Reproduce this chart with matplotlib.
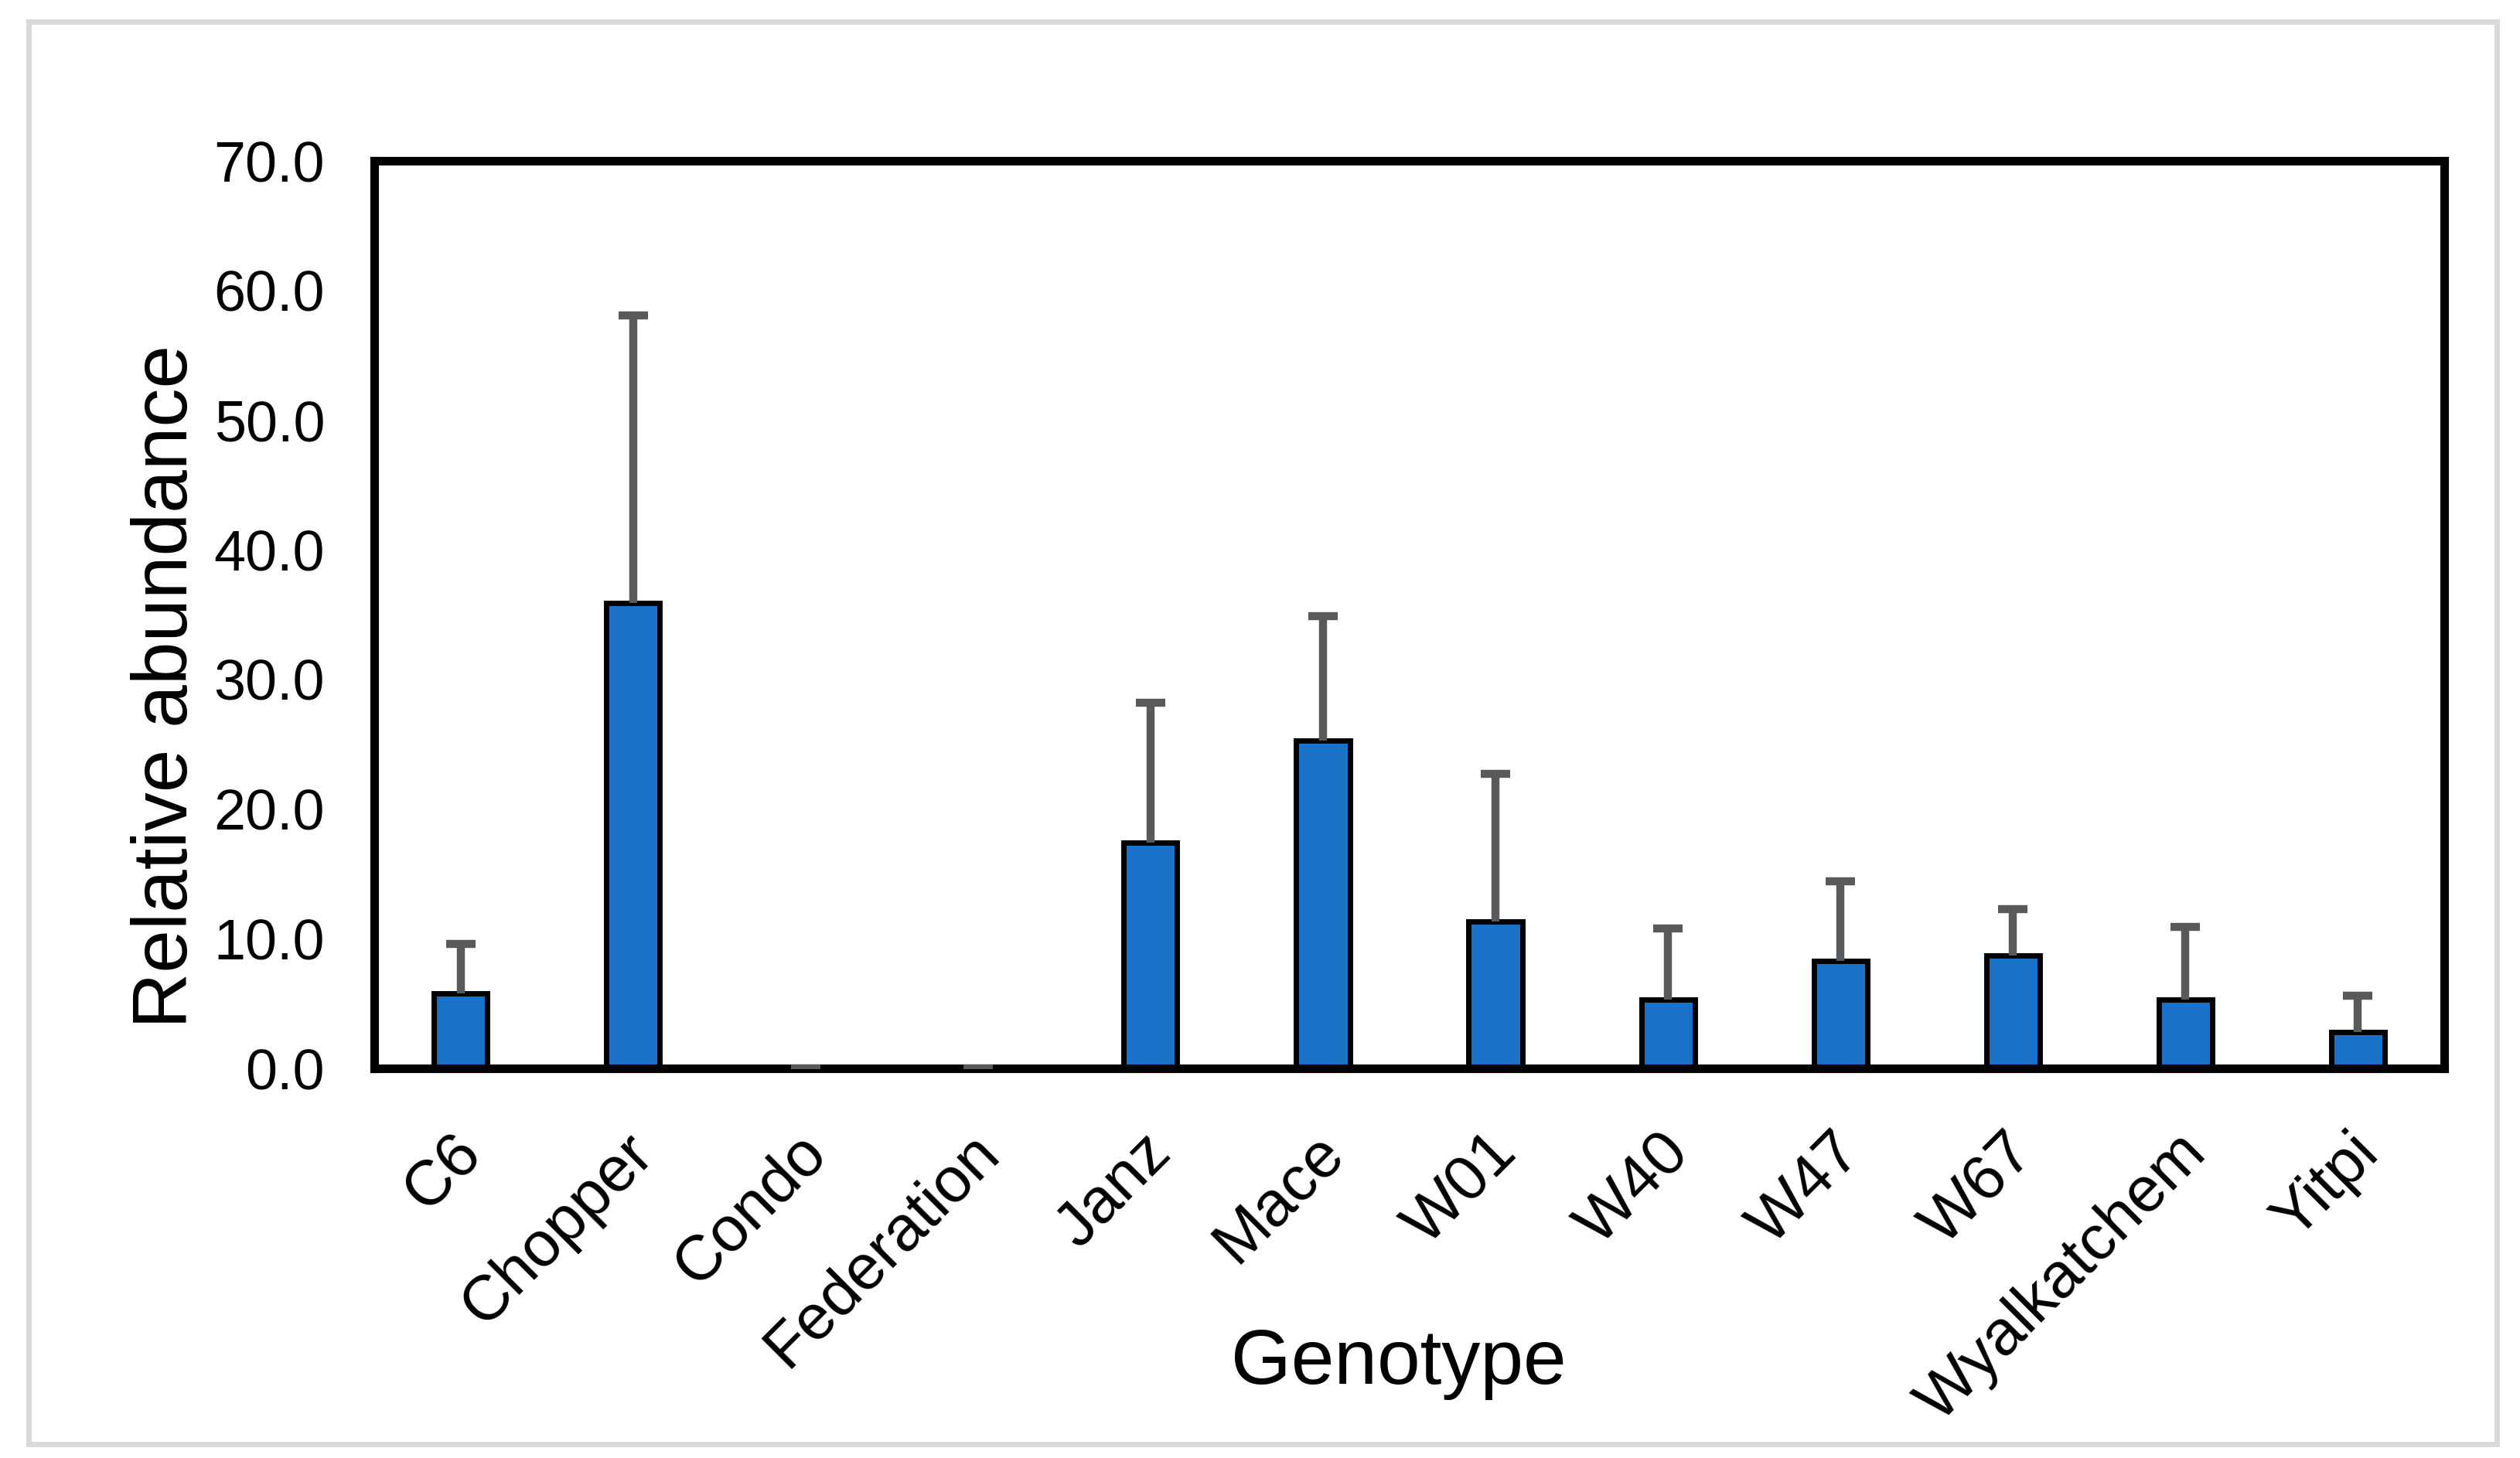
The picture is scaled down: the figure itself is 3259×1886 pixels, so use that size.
import matplotlib
matplotlib.use("Agg")
import matplotlib.pyplot as plt
import matplotlib.transforms as mtransforms
from matplotlib.patches import Rectangle

plt.rcParams['font.family'] = ['Liberation Sans', 'DejaVu Sans']

genotypes = ["C6", "Chopper", "Condo", "Federation", "Janz", "Mace",
             "W01", "W40", "W47", "W67", "Wyalkatchem", "Yitpi"]
abundance = [5.8, 35.9, 0.0, 0.0, 17.4, 25.3, 11.3, 5.3, 8.3, 8.7, 5.3, 2.8]
err_upper = [3.8, 22.2, 0.0, 0.0, 10.8, 9.6, 11.4, 5.5, 6.1, 3.6, 5.6, 2.8]
yticks = [0, 10, 20, 30, 40, 50, 60, 70]

W, H = 3259, 1886
fig = plt.figure(figsize=(W / 100, H / 100), dpi=100)

# light grey frame around the whole chart
fig.patches.append(Rectangle((37 / W, 1 - 1868 / H), (3229 - 37) / W, (1868 - 28) / H,
                             transform=fig.transFigure, fill=False,
                             edgecolor="#d9d9d9", linewidth=5))

ax = fig.add_axes([484 / W, 1 - 1382 / H, (3161 - 484) / W, (1382 - 208) / H])

x = list(range(len(genotypes)))
ax.bar(x, abundance, width=0.31, color="#1a72c8", edgecolor="black",
       linewidth=5, zorder=2)
eb = ax.errorbar(x, abundance, yerr=[[0] * len(x), err_upper], fmt="none",
                 ecolor="#595959", elinewidth=7.5, capsize=13.5, capthick=7.5, zorder=3)
# only the upper cap (plus-direction error bars)
eb[1][0].set_visible(False)

ax.set_xlim(-0.5, len(genotypes) - 0.5)
ax.set_ylim(0, 70)
ax.set_yticks(yticks)
ax.set_yticklabels([f"{v:.1f}" for v in yticks], fontsize=53)
ax.tick_params(axis="y", length=0, pad=46)

ax.set_xticks(x)
ax.set_xticklabels(genotypes, fontsize=59, rotation=45, ha="right",
                   va="center", rotation_mode="anchor")
ax.tick_params(axis="x", length=0, pad=70)
offset = mtransforms.ScaledTranslation(15 / 100, 0, fig.dpi_scale_trans)
for lab in ax.get_xticklabels():
    lab.set_transform(lab.get_transform() + offset)

for s in ax.spines.values():
    s.set_linewidth(8)
    s.set_color("black")

fig.text(242 / W, 1 - 888 / H, "Relative abundance", rotation=90,
         rotation_mode="anchor", ha="center", va="baseline", fontsize=72)
fig.text(1809 / W, 1 - 1790 / H, "Genotype", ha="center", va="baseline", fontsize=72)

fig.savefig("out.png", dpi=100)
